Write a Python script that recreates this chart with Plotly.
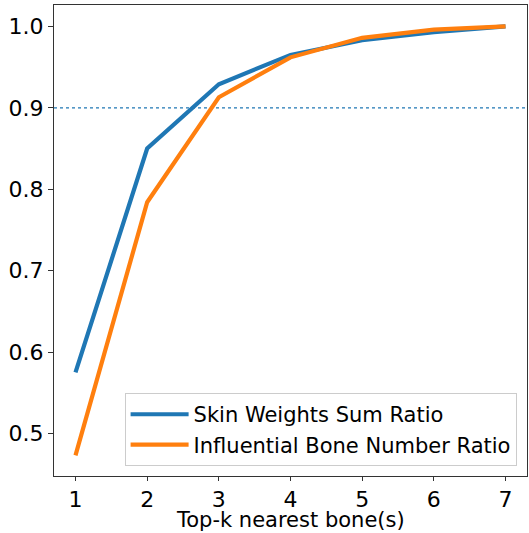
import plotly.graph_objects as go

k_values = [1, 2, 3, 4, 5, 6, 7]
skin_weights_sum_ratio = [0.575, 0.850, 0.929, 0.965, 0.983, 0.993, 1.000]
influential_bone_ratio = [0.473, 0.784, 0.913, 0.962, 0.986, 0.996, 1.000]
threshold = 0.9
y_ticks = [0.5, 0.6, 0.7, 0.8, 0.9, 1.0]
x_ticks = [1, 2, 3, 4, 5, 6, 7]
x_title = "Top-k nearest bone(s)"

FONT = "DejaVu Sans"
FS = 21
TFS = 22

fig = go.Figure()
fig.add_trace(go.Scatter(x=k_values, y=skin_weights_sum_ratio, mode="lines",
                         name="Skin Weights Sum Ratio",
                         line=dict(color="#1f77b4", width=4.2)))
fig.add_trace(go.Scatter(x=k_values, y=influential_bone_ratio, mode="lines",
                         name="Influential Bone Number Ratio",
                         line=dict(color="#ff7f0e", width=4.2)))
fig.add_shape(type="line", xref="paper", x0=0, x1=1, yref="y", y0=threshold, y1=threshold,
              line=dict(color="#1f77b4", width=1.2, dash="dot"), layer="below")
fig.add_annotation(text=x_title, xref="paper", yref="paper", x=0.5, y=-0.094,
                   xanchor="center", yanchor="middle", showarrow=False,
                   font=dict(family=FONT, size=FS, color="black"))

fig.update_layout(
    width=529, height=533,
    margin=dict(l=54, r=2, t=5, b=57, autoexpand=False),
    paper_bgcolor="white", plot_bgcolor="white",
    font=dict(family=FONT, size=FS, color="black"),
    showlegend=True,
    legend=dict(x=0.978, y=0.021, xanchor="right", yanchor="bottom",
                bgcolor="rgba(255,255,255,0.8)", bordercolor="#cccccc", borderwidth=1,
                font=dict(size=FS), tracegroupgap=0, itemwidth=58),
)
fig.update_xaxes(range=[0.7, 7.3], tickvals=x_ticks, ticks="outside", ticklen=4,
                 tickcolor="#333333", showline=True, linecolor="#333333", linewidth=1,
                 mirror=True, showgrid=False, zeroline=False, automargin=False,
                 tickfont=dict(size=TFS))
fig.update_yaxes(range=[0.4477, 1.0263], tickvals=y_ticks, tickformat=".1f",
                 ticks="outside", ticklen=5, tickcolor="#333333", showline=True,
                 linecolor="#333333", linewidth=1, mirror=True, showgrid=False,
                 zeroline=False, automargin=False, tickfont=dict(size=TFS))

fig.write_html("out.html", config={"displayModeBar": False},
               post_script="document.body.style.margin='0';document.body.style.overflow='hidden';")
